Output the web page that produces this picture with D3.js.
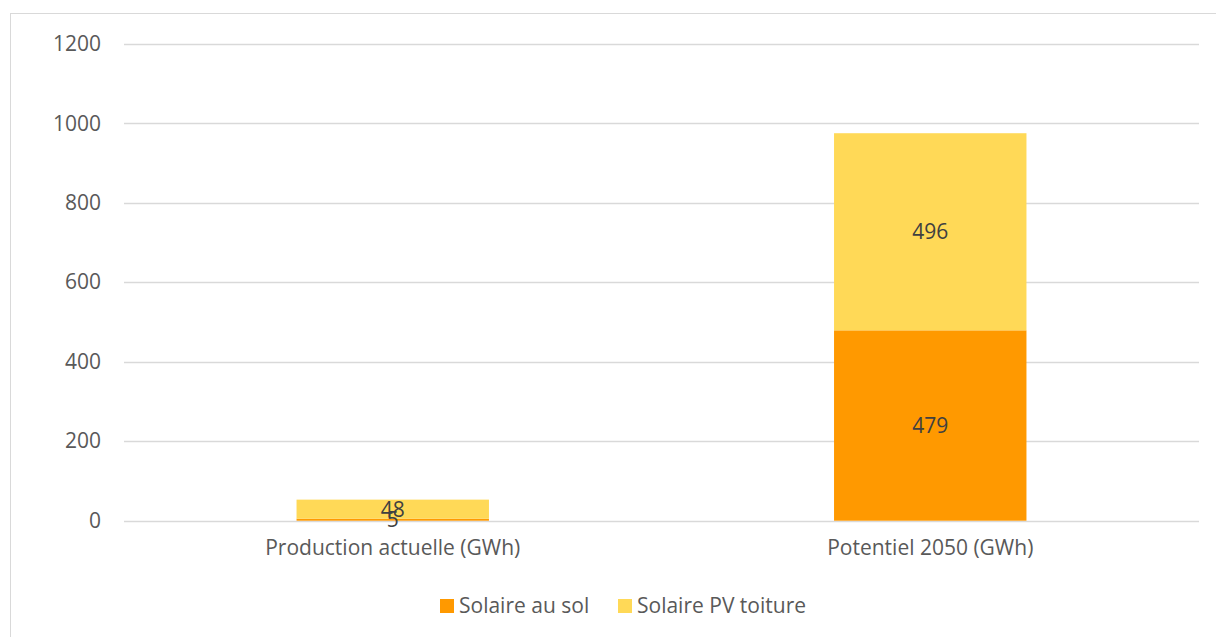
<!DOCTYPE html>
<html><head><meta charset="utf-8">
<script src="https://cdn.jsdelivr.net/npm/d3@7"></script>
<style>body{margin:0;background:#fff}svg{display:block}text{font-family:"Open Sans",sans-serif}</style>
</head><body>
<script>
const categories = ["Production actuelle (GWh)", "Potentiel 2050 (GWh)"];
const seriesNames = ["Solaire au sol", "Solaire PV toiture"];
const solaireSol = [5, 479];
const solaireToiture = [48, 496];
const yTicks = [0, 200, 400, 600, 800, 1000, 1200];
const colors = ["#FF9900", "#FFD957"];
const FS = 21;

const W = 1216, H = 637;
const svg = d3.select("body").append("svg").attr("width", W).attr("height", H);
svg.append("rect").attr("x", 10.5).attr("y", 13.5).attr("width", W).attr("height", H)
  .attr("fill", "none").attr("stroke", "#d9d9d9").attr("stroke-width", 1);

const x = d3.scaleBand().domain(categories).range([124, 1199]).paddingInner(0.642).paddingOuter(0.321);
const y = d3.scaleLinear().domain([0, 1200]).range([520.7, 43.8]);

// gridlines
svg.append("g").selectAll("line").data(yTicks).join("line")
  .attr("x1", 124).attr("x2", 1199)
  .attr("y1", d => Math.round(y(d)) + 0.5).attr("y2", d => Math.round(y(d)) + 0.5)
  .attr("stroke", "#d9d9d9").attr("stroke-width", 1.3);

// y axis labels
const yAxis = d3.axisLeft(y).tickValues(yTicks).tickFormat(d3.format("d")).tickSize(0).tickPadding(0);
const ya = svg.append("g").attr("transform", "translate(101,0)").call(yAxis);
ya.select(".domain").remove();
ya.selectAll("text").attr("font-size", FS).attr("fill", "#595959").attr("font-family", "Open Sans");

// x axis labels
const xAxis = d3.axisBottom(x).tickSize(0).tickPadding(0);
const xa = svg.append("g").attr("transform", "translate(0,540)").call(xAxis);
xa.select(".domain").remove();
xa.selectAll("text").attr("font-size", FS).attr("fill", "#595959").attr("font-family", "Open Sans");

// stacked data
const rows = categories.map((c, i) => ({cat: c, sol: solaireSol[i], toit: solaireToiture[i]}));
const stack = d3.stack().keys(["sol", "toit"])(rows);

const g = svg.append("g");
stack.forEach((layer, li) => {
  g.append("g").selectAll("rect").data(layer).join("rect")
    .attr("x", d => x(d.data.cat))
    .attr("width", x.bandwidth())
    .attr("y", d => y(d[1]))
    .attr("height", d => y(d[0]) - y(d[1]))
    .attr("fill", colors[li]);
});
stack.forEach((layer, li) => {
  g.append("g").selectAll("text").data(layer).join("text")
    .attr("x", d => x(d.data.cat) + x.bandwidth() / 2)
    .attr("y", d => (y(d[0]) + y(d[1])) / 2)
    .attr("dy", "0.35em")
    .attr("text-anchor", "middle")
    .attr("font-size", FS).attr("fill", "#404040")
    .text(d => d[1] - d[0]);
});

// legend
const leg = svg.append("g");
const legX = [440, 618];
seriesNames.forEach((n, i) => {
  leg.append("rect").attr("x", legX[i]).attr("y", 599).attr("width", 14).attr("height", 14).attr("fill", colors[i]);
  leg.append("text").attr("x", legX[i] + 19).attr("y", 606).attr("dy", "0.35em")
    .attr("font-size", FS).attr("fill", "#595959").text(n);
});
</script>
</body></html>
